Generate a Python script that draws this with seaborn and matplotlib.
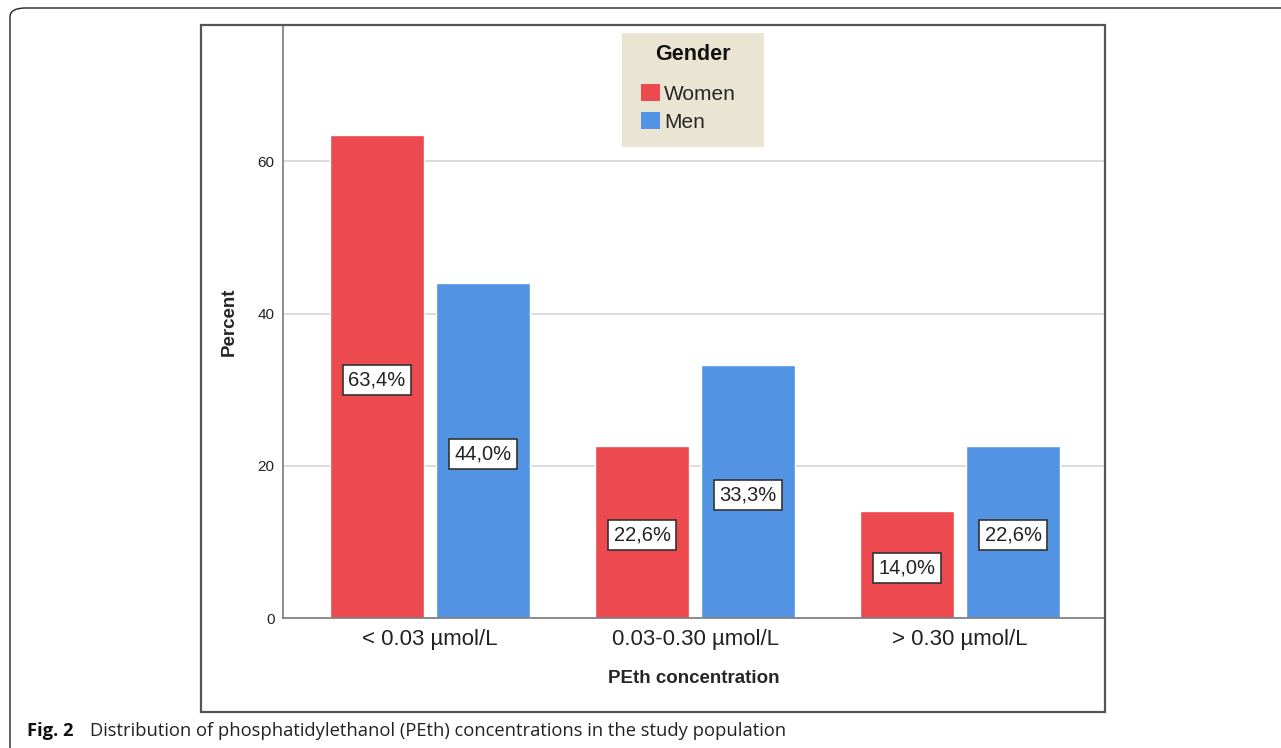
import pandas as pd
import matplotlib.pyplot as plt
import seaborn as sns
from matplotlib.patches import FancyBboxPatch, Rectangle, Patch

categories = ['< 0.03 µmol/L', '0.03-0.30 µmol/L', '> 0.30 µmol/L']
women = [63.4, 22.6, 14.0]
men = [44.0, 33.3, 22.6]
labels_women = ['63,4%', '22,6%', '14,0%']
labels_men = ['44,0%', '33,3%', '22,6%']

df = pd.DataFrame({
    'conc': categories * 2,
    'gender': ['Women'] * 3 + ['Men'] * 3,
    'pct': women + men,
    'lab': labels_women + labels_men,
})

red = '#EC4A4E'
blue = '#5393E3'
W, H = 1281, 748

sns.set_theme(style='white')
plt.rcParams['font.family'] = ['Liberation Sans', 'DejaVu Sans']

fig = plt.figure(figsize=(W / 100, H / 100), dpi=100)
ax = fig.add_axes([283 / W, 1 - 618 / H, (1104 - 283) / W, (618 - 25) / H])

sns.barplot(data=df, x='conc', y='pct', hue='gender', hue_order=['Women', 'Men'],
            palette=[red, blue], width=0.8, gap=0.11, saturation=1, ax=ax,
            legend=False, zorder=2)

ax.set_ylim(0, 77.9)
ax.set_xlim(-0.555, 2.543)
ax.set_yticks([0, 20, 40, 60])
ax.yaxis.grid(True, color='#d4d4d4', lw=1.2, zorder=0)
ax.set_axisbelow(True)
ax.tick_params(axis='y', length=0, labelsize=11, pad=6, colors='#222')
ax.tick_params(axis='x', length=0, labelsize=16, pad=8, colors='#222')
for s in ['top', 'right']:
    ax.spines[s].set_visible(False)
for s in ['left', 'bottom']:
    ax.spines[s].set_color('#7a7a7a')
    ax.spines[s].set_linewidth(1.2)

ax.set_xlabel('PEth concentration', fontsize=13.5, fontweight='bold', labelpad=14)
ax.set_ylabel('Percent', fontsize=13.5, fontweight='bold', labelpad=14)

# value labels in boxes at half bar height
for bar, lab in zip(ax.patches, df['lab']):
    h = bar.get_height()
    ax.text(bar.get_x() + bar.get_width() / 2, h / 2 - 0.45, lab, ha='center', va='center',
            fontsize=14.5, color='#222', zorder=4,
            bbox=dict(boxstyle='square,pad=0.27', fc='white', ec='#333', lw=1.2))

# legend: beige box, title and entries
fig.patches.append(Rectangle((622 / W, 1 - 147 / H), 142 / W, 114 / H,
                             transform=fig.transFigure, fc='#EAE5D3', ec='none', zorder=5))
fig.text(693 / W, 1 - 55 / H, 'Gender', ha='center', va='center', fontsize=15.5,
         fontweight='bold', color='#111', zorder=6)
handles = [Patch(facecolor=red, edgecolor='none'), Patch(facecolor=blue, edgecolor='none')]
leg = fig.legend(handles, ['Women', 'Men'], loc='upper left',
                 bbox_to_anchor=(641 / W, 1 - 84 / H), frameon=False, fontsize=15,
                 handlelength=0.9, handleheight=0.9, handletextpad=0.2, labelspacing=0.38,
                 borderpad=0, borderaxespad=0)
leg.set_zorder(6)

# inner chart frame
fig.patches.append(Rectangle((201 / W, 1 - 712 / H), 904 / W, 687 / H,
                             transform=fig.transFigure, fill=False, ec='#555555', lw=1.6))
# outer rounded frame
fig.patches.append(FancyBboxPatch((10 / W, -0.2), 1.3, 1.2 - 8 / H,
                                  boxstyle='round,pad=0,rounding_size=0.012',
                                  transform=fig.transFigure, fill=False, ec='#222', lw=1.0))

fig.text(27 / W, 1 - 731 / H, 'Fig. 2', fontsize=13.2, fontweight='bold',
         family=['Open Sans', 'DejaVu Sans'], va='center', color='#111')
fig.text(90 / W, 1 - 731 / H,
         'Distribution of phosphatidylethanol (PEth) concentrations in the study population',
         fontsize=13.2, family=['Open Sans', 'DejaVu Sans'], va='center', color='#222')

fig.savefig('out.png', dpi=100)
